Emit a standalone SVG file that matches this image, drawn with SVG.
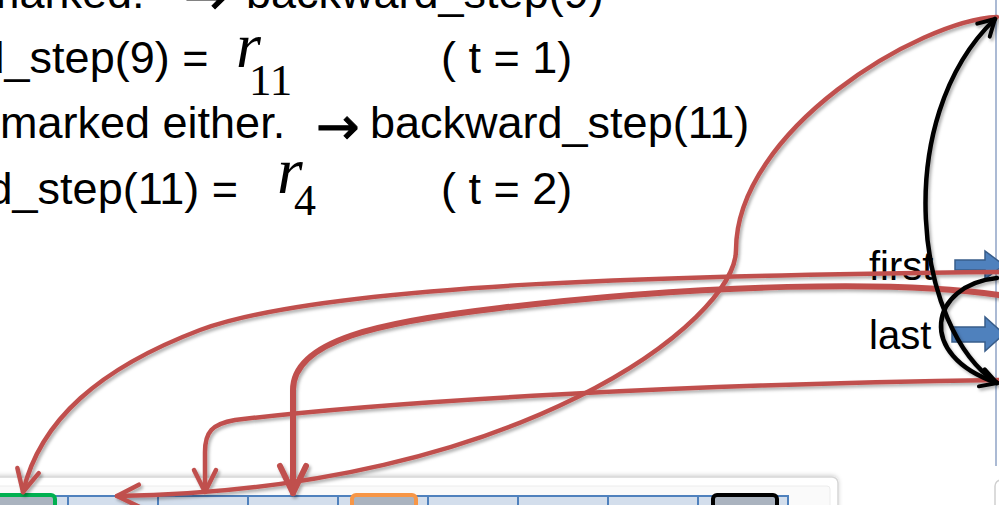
<svg xmlns="http://www.w3.org/2000/svg" width="999" height="505" viewBox="0 0 999 505">
<style>
.t{font-family:"Liberation Sans",Arial,sans-serif;font-size:45px;fill:#000}
.ar{font-family:"DejaVu Sans",sans-serif;font-size:52px;fill:#000;stroke:#000;stroke-width:1}
.mi{font-family:"Liberation Serif","Times New Roman",serif;font-style:italic;fill:#000}
.mn{font-family:"Liberation Serif","Times New Roman",serif;fill:#000}
.lbl{font-family:"Liberation Sans",Arial,sans-serif;font-size:40px;fill:#000}
.red{fill:none;stroke:#c0504d;stroke-width:4.5;stroke-linecap:round;stroke-linejoin:round}
.blk{fill:none;stroke:#000;stroke-width:4.5;stroke-linecap:round;stroke-linejoin:round}
.cell{fill:#d3deec;stroke:#4f81bd;stroke-width:2}
.hl{fill:#aab3bf;stroke-width:4}
.barrow{fill:#4f81bd;stroke:#385d8a;stroke-width:1.5}
</style>
<defs>
<filter id="sh" filterUnits="userSpaceOnUse" x="-50" y="-50" width="1100" height="620">
<feDropShadow dx="2" dy="2.5" stdDeviation="1.5" flood-color="#000" flood-opacity="0.3"/>
</filter>
<filter id="psh" filterUnits="userSpaceOnUse" x="-50" y="440" width="1100" height="120">
<feDropShadow dx="0" dy="-1" stdDeviation="2" flood-color="#000" flood-opacity="0.18"/>
</filter>
<marker id="ra" markerUnits="userSpaceOnUse" orient="auto" refX="0" refY="0" markerWidth="1" markerHeight="1" style="overflow:visible">
<path d="M -22 -11 L 0 0 L -22 11" fill="none" stroke="#c0504d" stroke-width="4.5" stroke-linecap="round" stroke-linejoin="round"/>
</marker>
<marker id="raB" markerUnits="userSpaceOnUse" orient="auto" refX="0" refY="0" markerWidth="1" markerHeight="1" style="overflow:visible">
<path d="M -27 -13 L 0 0 L -27 13" fill="none" stroke="#c0504d" stroke-width="6" stroke-linecap="round" stroke-linejoin="round"/>
</marker>
<marker id="ba" markerUnits="userSpaceOnUse" orient="auto" refX="0" refY="0" markerWidth="1" markerHeight="1" style="overflow:visible">
<path d="M -16 -9 L 0 0 L -16 9" fill="none" stroke="#000" stroke-width="4" stroke-linecap="round" stroke-linejoin="round"/>
</marker>
</defs>
<rect x="0" y="0" width="999" height="505" fill="#fff"/>

<g id="text">
<text class="t" x="-18" y="8">marked:</text>
<text class="ar" x="184" y="14">→</text>
<text class="t" x="246" y="8">backward_step(9)</text>

<text class="t" x="-188" y="73">backward_step(9) =</text>
<text class="mi" x="236" y="67" font-size="64">r</text>
<text class="mn" x="249" y="95" font-size="45">11</text>
<text class="t" x="441" y="73">( t = 1)</text>

<text class="t" x="0" y="138">marked either.</text>
<text class="ar" x="316" y="144">→</text>
<text class="t" x="370" y="138">backward_step(11)</text>

<text class="t" x="-180" y="204">backward_step(11) =</text>
<text class="mi" x="277" y="193" font-size="66">r</text>
<text class="mn" x="294" y="215" font-size="44">4</text>
<text class="t" x="441" y="204">( t = 2)</text>
</g>

<g id="right-panel">
<line x1="996" y1="0" x2="996" y2="466" stroke="#8fa3c6" stroke-width="1.5"/>
<rect x="995" y="480" width="30" height="40" rx="6" fill="#fff" stroke="#d0d0d0" stroke-width="1.5"/>
</g>

<g id="first">
<text class="lbl" x="869" y="280">first</text>
<path class="barrow" d="M955 260 H985 V251 L1004 265 L985 279 V270 H955 Z"/>
</g>
<g id="last">
<text class="lbl" x="869" y="349">last</text>
<path class="barrow" d="M952 327 H985 V317 L1004 334 L985 351 V342 H952 Z"/>
</g>

<g id="array">
<rect x="-20" y="477" width="858" height="60" rx="6" fill="#fff" stroke="#d6d6d6" stroke-width="1.5" filter="url(#psh)"/>
<rect x="-20" y="486" width="850" height="50" rx="3" fill="#fafafa" stroke="#ececec" stroke-width="1"/>
<rect class="cell" x="-22" y="496" width="90" height="40"/>
<rect class="cell" x="68" y="496" width="90" height="40"/>
<rect class="cell" x="158" y="496" width="90" height="40"/>
<rect class="cell" x="248" y="496" width="90" height="40"/>
<rect class="cell" x="338" y="496" width="90" height="40"/>
<rect class="cell" x="428" y="496" width="90" height="40"/>
<rect class="cell" x="518" y="496" width="90" height="40"/>
<rect class="cell" x="608" y="496" width="90" height="40"/>
<rect class="cell" x="698" y="496" width="90" height="40"/>
</g>
<g id="cell-green"><rect class="hl" x="-9" y="495" width="64" height="30" rx="4" stroke="#00b050"/></g>
<g id="cell-orange"><rect class="hl" x="352" y="495" width="64" height="30" rx="4" stroke="#f79646"/></g>
<g id="cell-black"><rect class="hl" x="713" y="495" width="64" height="30" rx="4" stroke="#000"/></g>

<g id="connectors" filter="url(#sh)">
<path class="red" d="M999 380 C700 384, 400 400, 235 420 C212 424, 205 432, 205 452 L205 492" marker-end="url(#ra)"/>
<path class="red" d="M999 272 C700 275, 330 282, 200 330 C100 368, 40 420, 23 492" marker-end="url(#ra)"/>
<path class="red" d="M997 17 C920 20, 736 130, 736 250 C736 320, 520 490, 117 496" marker-end="url(#ra)"/>
<path class="red" style="stroke-width:6" d="M999 295 C900 280, 700 284, 500 308 C380 322, 293 340, 293 390 L293 493" marker-end="url(#raB)"/>
<path class="blk" d="M997 383 C915 330, 890 120, 995 19" marker-end="url(#ba)"/>
<path class="blk" d="M997 278 C930 285, 915 355, 997 383" marker-end="url(#ba)"/>
</g>
</svg>
